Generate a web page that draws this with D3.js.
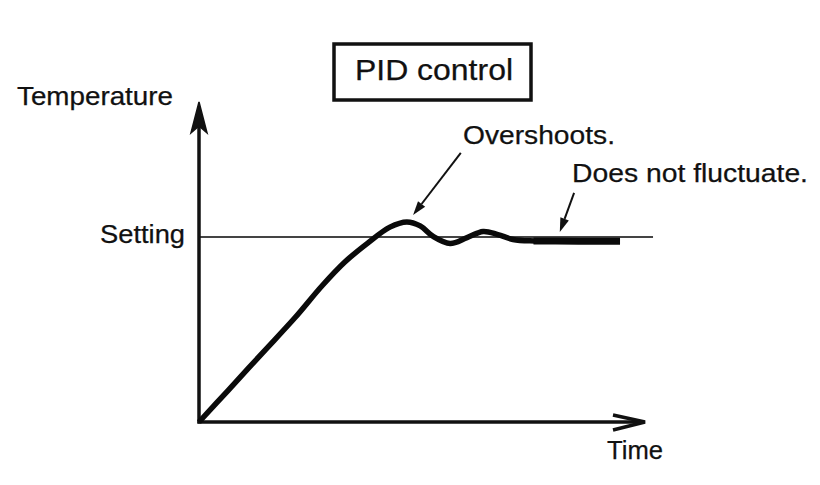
<!DOCTYPE html>
<html>
<head>
<meta charset="utf-8">
<script src="https://cdn.jsdelivr.net/npm/d3@7"></script>
<style>
  html, body { margin: 0; padding: 0; background: #fff; }
  svg { display: block; }
  text { font-family: "Liberation Sans", Arial, Helvetica, sans-serif; fill: #111; stroke: #111; stroke-width: 0.25; }
</style>
</head>
<body>
<svg id="chart" width="820" height="485"></svg>
<script>
// ---- data (time in arbitrary units 0..100, temperature units with setting = 60)
const time        = [0, 6.5, 14.1, 21.5, 27.6, 32.7, 37.9, 42.8, 46.6, 49.6, 52.5, 56.3, 60.1, 63.7, 67.0, 70.4, 75.3, 94.4];
const temperature = [0, 10.2, 22.2, 33.8, 44.2, 51.9, 58.1, 63.2, 64.9, 63.6, 60.2, 57.9, 59.8, 61.8, 60.8, 59.2, 58.7, 58.7];
const settingValue = 60;
const settledTime  = [75, 80, 87, 94.4];
const settledTemp  = [58.7, 58.7, 58.6, 58.6];
const title = "PID control";
const yLabel = "Temperature";
const xLabel = "Time";
const settingLabel = "Setting";
const annotations = [
  { text: "Overshoots.",          from: [58.7, 87.3], to: [48.0, 67.1] },
  { text: "Does not fluctuate.",  from: [84.1, 74.3], to: [80.9, 61.6] }
];

const svg = d3.select("#chart");
const x = d3.scaleLinear().domain([0, 100]).range([199, 645]);
const y = d3.scaleLinear().domain([0, settingValue]).range([422, 237]);

// setting line
svg.append("line")
  .attr("x1", x(0)).attr("x2", x(101.8))
  .attr("y1", y(settingValue)).attr("y2", y(settingValue))
  .attr("stroke", "#444").attr("stroke-width", 2);

// axes
const yTop = y(103.8);
svg.append("line").attr("x1", x(0)).attr("x2", x(0)).attr("y1", y(0) + 1.5).attr("y2", yTop + 10)
  .attr("stroke", "#111").attr("stroke-width", 3.5);
svg.append("line").attr("x1", x(0) - 1.5).attr("x2", x(100) - 4).attr("y1", y(0)).attr("y2", y(0))
  .attr("stroke", "#111").attr("stroke-width", 3.5);
// y arrowhead (filled, barbed)
const ax = x(0);
svg.append("path")
  .attr("d", `M${ax},${yTop} L${ax + 8},${yTop + 31} L${ax},${yTop + 24} L${ax - 8},${yTop + 31} Z`)
  .attr("fill", "#111").attr("stroke", "#111").attr("stroke-width", 1.5).attr("stroke-linejoin", "miter");
// x arrowhead (open V)
const xr = x(100), ay = y(0);
svg.append("path")
  .attr("d", `M${xr - 32},${ay - 7} L${xr},${ay} L${xr - 32},${ay + 8}`)
  .attr("fill", "none").attr("stroke", "#111").attr("stroke-width", 3.5).attr("stroke-linejoin", "miter");

// response curve
const pts = time.map((t, i) => [t, temperature[i]]);
const line = d3.line().x(d => x(d[0])).y(d => y(d[1])).curve(d3.curveCatmullRom.alpha(0.5));
svg.append("path").attr("d", line(pts))
  .attr("fill", "none").attr("stroke", "#0a0a0a").attr("stroke-width", 5.5)
  .attr("stroke-linecap", "butt").attr("stroke-linejoin", "round");
const settled = settledTime.map((t, i) => [t, settledTemp[i]]);
svg.append("path").attr("d", d3.line().x(d => x(d[0])).y(d => y(d[1])).curve(d3.curveCatmullRom)(settled))
  .attr("fill", "none").attr("stroke", "#0a0a0a").attr("stroke-width", 7).attr("stroke-linecap", "butt");

// annotation arrows
annotations.forEach(a => {
  const x1 = x(a.from[0]), y1 = y(a.from[1]), x2 = x(a.to[0]), y2 = y(a.to[1]);
  const ang = Math.atan2(y2 - y1, x2 - x1);
  const L = 14, W = 4.5;
  const bx = x2 - L * Math.cos(ang), by = y2 - L * Math.sin(ang);
  svg.append("line").attr("x1", x1).attr("y1", y1).attr("x2", bx).attr("y2", by)
    .attr("stroke", "#111").attr("stroke-width", 2);
  const px = -Math.sin(ang) * W, py = Math.cos(ang) * W;
  svg.append("path")
    .attr("d", `M${x2},${y2} L${bx + px},${by + py} L${bx - px},${by - py} Z`)
    .attr("fill", "#111");
});

// texts
function label(str, tx, ty, size, len) {
  svg.append("text").attr("x", tx).attr("y", ty)
    .attr("font-size", size)
    .attr("textLength", len).attr("lengthAdjust", "spacingAndGlyphs")
    .text(str);
}
// title box
svg.append("rect").attr("x", 334).attr("y", 44).attr("width", 197).attr("height", 56)
  .attr("fill", "none").attr("stroke", "#111").attr("stroke-width", 3.5);
label(title, 355, 80, 29, 158);
label(yLabel, 17, 105, 25, 156);
label(settingLabel, 100, 243, 26, 85);
label(xLabel, 607, 459, 26, 56);
label(annotations[0].text, 463, 144, 26, 152);
label(annotations[1].text, 572, 182, 26, 236);
</script>
</body>
</html>
